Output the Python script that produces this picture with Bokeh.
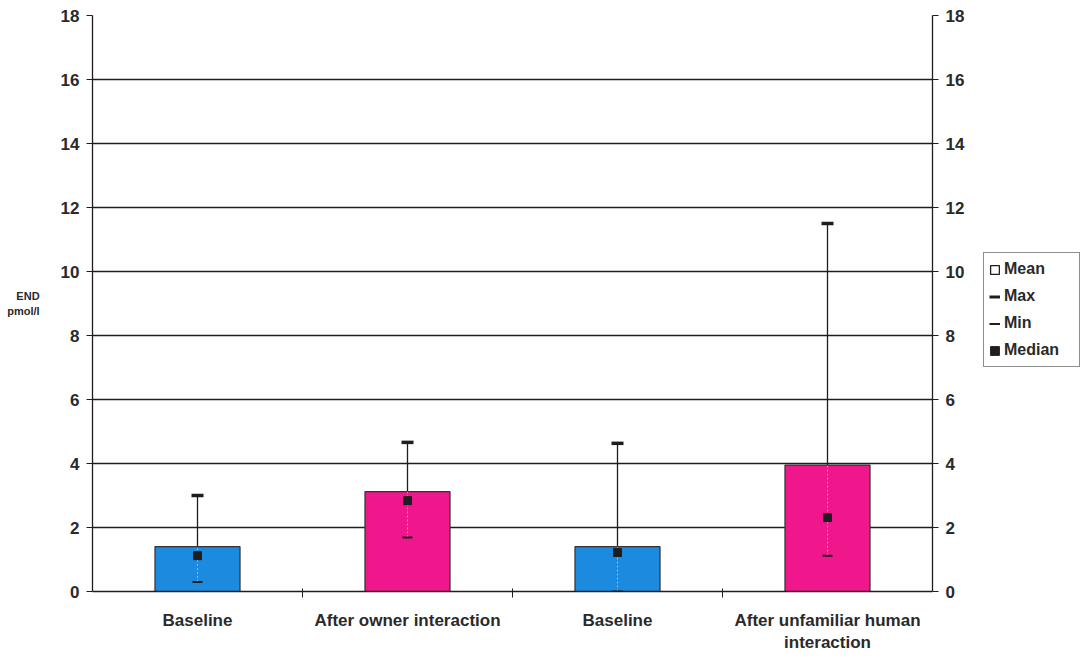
from bokeh.plotting import figure
from bokeh.layouts import row
from bokeh.models import (ColumnDataSource, LinearAxis, FixedTicker, Legend,
                          LegendItem, Range1d)
from bokeh.embed import file_html
from bokeh.resources import INLINE

# END concentration (pmol/l) per condition
categories = ["Baseline", "After owner interaction", "Baseline",
              "After unfamiliar human\ninteraction"]
mean_vals = [1.4, 3.12, 1.4, 3.95]
max_vals = [3.0, 4.66, 4.63, 11.5]
min_vals = [0.3, 1.69, 0.0, 1.12]
median_vals = [1.12, 2.84, 1.22, 2.31]
bar_colors = ["#1c8ade", "#f0168c", "#1c8ade", "#f0168c"]
y_ticks = [0, 2, 4, 6, 8, 10, 12, 14, 16, 18]

FONT = "Liberation Sans"
TEXT = "#2a2a2a"
INK = "#1e1e1e"
NAN = float("nan")

xs = [i + 1 for i in range(len(categories))]
src = ColumnDataSource(dict(x=xs, mean=mean_vals, mx=max_vals, mn=min_vals,
                            med=median_vals, color=bar_colors))

p = figure(width=975, height=658, output_backend="svg", toolbar_location=None,
           x_range=Range1d(0.5, 4.5), y_range=Range1d(0, 18),
           min_border_left=92, min_border_right=43, min_border_top=15,
           min_border_bottom=67, y_axis_location=None)
p.outline_line_color = None
p.background_fill_color = "white"
p.border_fill_color = "white"

# grid
p.xgrid.grid_line_color = None
p.ygrid.ticker = FixedTicker(ticks=y_ticks)
p.ygrid.grid_line_color = INK
p.ygrid.grid_line_width = 1.3

# y axes on both sides
axes = {}
for side in ("left", "right"):
    ax = LinearAxis(ticker=FixedTicker(ticks=y_ticks))
    ax.axis_line_color = INK
    ax.axis_line_width = 1.3
    ax.major_tick_line_color = INK
    ax.major_tick_out = 6
    ax.major_tick_in = 0
    ax.minor_tick_line_color = None
    ax.major_label_text_font = FONT
    ax.major_label_text_font_style = "bold"
    ax.major_label_text_font_size = "17px"
    ax.major_label_text_color = TEXT
    ax.major_label_standoff = 7
    p.add_layout(ax, side)
    axes[side] = ax

left = axes["left"]
left.axis_label = "END\npmol/l"
left.axis_label_orientation = "horizontal"
left.axis_label_text_font = FONT
left.axis_label_text_font_style = "bold"
left.axis_label_text_font_size = "11px"
left.axis_label_text_color = TEXT
left.axis_label_standoff = 18

# x axis: labels at bar centres, small ticks between categories
xa = p.xaxis[0]
xa.ticker = FixedTicker(ticks=xs, minor_ticks=[1.5, 2.5, 3.5])
xa.major_label_overrides = {x: c for x, c in zip(xs, categories)}
xa.major_tick_line_color = None
xa.minor_tick_line_color = INK
xa.minor_tick_out = 6
xa.minor_tick_in = 3
xa.axis_line_color = INK
xa.axis_line_width = 1.3
xa.major_label_text_font = FONT
xa.major_label_text_font_style = "bold"
xa.major_label_text_font_size = "17px"
xa.major_label_text_color = TEXT
xa.major_label_standoff = 13

# whiskers from the mean bar up to the maximum
p.segment(x0="x", y0="mean", x1="x", y1="mx", source=src,
          line_color=INK, line_width=1.3)

# mean bars
p.vbar(x="x", top="mean", width=0.405, source=src, fill_color="color",
       line_color="#333333", line_width=1.2)

# faint range line inside bars
p.segment(x0="x", y0="mn", x1="x", y1="mean", source=src,
          line_color="white", line_alpha=0.45, line_width=1, line_dash="2 2")

p.scatter(x="x", y="mx", source=src, marker="dash", size=12,
          line_color=INK, line_width=3.5)
p.scatter(x="x", y="mn", source=src, marker="dash", size=10,
          line_color=INK, line_width=2)
p.scatter(x="x", y="med", source=src, marker="square", size=8,
          fill_color=INK, line_color=INK)

# key panel to the right of the chart
k = figure(width=105, height=658, output_backend="svg", toolbar_location=None,
           x_range=Range1d(0, 105), y_range=Range1d(0, 658),
           min_border=0, x_axis_location=None, y_axis_location=None)
k.outline_line_color = None
k.grid.grid_line_color = None
k.background_fill_color = "white"
k.border_fill_color = "white"

key = ColumnDataSource(dict(x=[NAN], y=[NAN], l=[NAN], r=[NAN], b=[NAN], t=[NAN]))
k_mean = k.quad(left="l", right="r", bottom="b", top="t", source=key,
                fill_color="white", line_color=INK, line_width=1.3)
k_max = k.line(x="x", y="y", source=key, line_color=INK, line_width=3)
k_min = k.line(x="x", y="y", source=key, line_color=INK, line_width=2)
k_med = k.quad(left="l", right="r", bottom="b", top="t", source=key,
               fill_color=INK, line_color=INK, line_width=1)

legend = Legend(items=[LegendItem(label="Mean", renderers=[k_mean]),
                       LegendItem(label="Max", renderers=[k_max]),
                       LegendItem(label="Min", renderers=[k_min]),
                       LegendItem(label="Median", renderers=[k_med])],
                location=(8, 224))
legend.border_line_color = INK
legend.border_line_width = 1.2
legend.background_fill_color = "white"
legend.label_text_font = FONT
legend.label_text_font_style = "bold"
legend.label_text_font_size = "16px"
legend.label_text_color = TEXT
legend.label_height = 22
legend.label_width = 70
legend.glyph_height = 11
legend.glyph_width = 11
legend.label_standoff = 4
legend.spacing = 5
legend.padding = 5
legend.margin = 0
k.add_layout(legend, "center")

page = row(p, k, spacing=0)
open("out.html", "w").write(file_html(page, INLINE))
